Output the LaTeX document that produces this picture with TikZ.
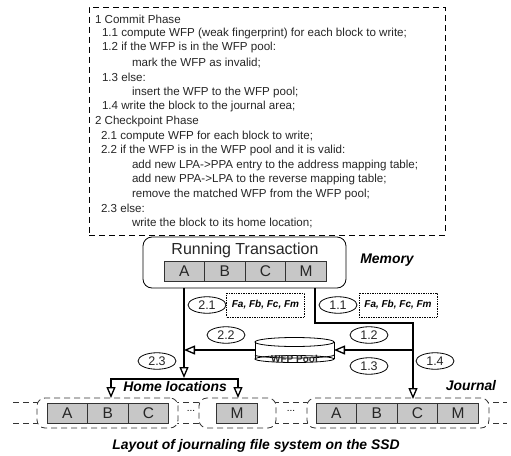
\documentclass[tikz,border=0pt]{standalone}
\usepackage{fontspec}
\setmainfont{Liberation Sans}
\usetikzlibrary{arrows.meta,positioning,calc,shapes.geometric}
\tikzset{
  every node/.style={inner sep=0pt,outer sep=0pt},
  steptext/.style={anchor=west,font=\fontsize{11.6}{13}\selectfont,text=black!85},
  cell/.style={draw=black!80,fill=black!22,line width=0.8pt,minimum width=40.6pt,minimum height=20pt,font=\fontsize{15.5}{17}\selectfont,text=black!85},
  num/.style={draw=black,ellipse,line width=0.8pt,minimum width=38pt,minimum height=16.5pt,font=\fontsize{12.5}{14}\selectfont,text=black!85},
  hashbox/.style={draw=black,densely dotted,line width=0.7pt,minimum width=78pt,minimum height=24pt,font=\bfseries\itshape\fontsize{10}{12}\selectfont},
  longdash/.style={dash pattern=on 6pt off 4pt},
  group/.style={draw=black!80,longdash,fill=white,rounded corners=8pt,line width=0.8pt},
  flow/.style={draw=black,line width=1.6pt},
  flowtip/.style={flow,-{Triangle[open,length=11pt,width=9pt,line width=1.3pt]}},
  lab/.style={font=\bfseries\itshape\fontsize{13.9}{16}\selectfont},
}
\begin{document}
\begin{tikzpicture}[x=1pt,y=-1pt]
\useasboundingbox (0,0) rectangle (511,455);
% pseudo-code box
\node[draw=black,longdash,line width=0.8pt,minimum width=356pt,minimum height=228pt] (code) at (267,121) {};
\node[steptext] (l1) at (95,19) {1 Commit Phase};
\node[steptext] (l2) at (102,34) {1.1 compute WFP (weak fingerprint) for each block to write;};
\node[steptext] (l3) at (102,48) {1.2 if the WFP is in the WFP pool:};
\node[steptext] (l4) at (132,63) {mark the WFP as invalid;};
\node[steptext] (l5) at (102,77) {1.3 else:};
\node[steptext] (l6) at (132,92) {insert the WFP to the WFP pool;};
\node[steptext] (l7) at (102,106) {1.4 write the block to the journal area;};
\node[steptext] (l8) at (95,121) {2 Checkpoint Phase};
\node[steptext] (l9) at (101,136) {2.1 compute WFP for each block to write;};
\node[steptext] (l10) at (101,150) {2.2 if the WFP is in the WFP pool and it is valid:};
\node[steptext] (l11) at (132,165) {add new LPA->PPA entry to the address mapping table;};
\node[steptext] (l12) at (132,179) {add new PPA->LPA to the reverse mapping table;};
\node[steptext] (l13) at (132,194) {remove the matched WFP from the WFP pool;};
\node[steptext] (l14) at (101,208) {2.3 else:};
\node[steptext] (l15) at (132,223) {write the block to its home location;};
% running transaction
\node[draw=black,line width=0.8pt,rounded corners=9pt,minimum width=203pt,minimum height=51pt] (rt) at (244.5,262.5) {};
\node[font=\fontsize{16}{18}\selectfont,text=black!85] (rtl) at (245,250) {Running Transaction};
\node[cell] (ra) at (184.3,271) {A};
\node[cell] (rb) at (224.9,271) {B};
\node[cell] (rc) at (265.5,271) {C};
\node[cell] (rm) at (306.1,271) {M};
\node[lab] (mem) at (387,260) {Memory};
% hashes
\node[hashbox] (h2) at (265.5,305) {Fa, Fb, Fc, Fm};
\node[hashbox] (h1) at (398,305) {Fa, Fb, Fc, Fm};
\node[num,fill=white] (n21) at (207,305) {2.1};
\node[num,fill=white] (n11) at (338,305) {1.1};
\node[num] (n22) at (226,335) {2.2};
\node[num] (n12) at (369,335) {1.2};
\node[num] (n13) at (369,366) {1.3};
\node[num] (n23) at (157,361) {2.3};
\node[num] (n14) at (435,361) {1.4};
% storage strip
\coordinate (sl1) at (13,402); \coordinate (sr1) at (507,402);
\coordinate (sl2) at (13,423); \coordinate (sr2) at (507,423);
\draw[black!80,longdash,line width=0.7pt] (sl1) -- (sr1);
\draw[black!80,longdash,line width=0.7pt] (sl2) -- (sr2);
\node[group,minimum width=141pt,minimum height=30pt] (g1) at (107.5,413) {};
\node[group,minimum width=77pt,minimum height=30pt] (g2) at (237.5,413) {};
\node[group,minimum width=182pt,minimum height=30pt] (g3) at (398,413) {};
\node[cell] (ha) at (67.3,413) {A};
\node[cell] (hb) at (107.9,413) {B};
\node[cell] (hc) at (148.5,413) {C};
\node[cell] (hm) at (237,413) {M};
\node[cell] (ja) at (336.3,413) {A};
\node[cell] (jb) at (376.9,413) {B};
\node[cell] (jc) at (417.5,413) {C};
\node[cell] (jm) at (458.1,413) {M};
\node[font=\fontsize{10}{12}\selectfont] (d1) at (191,411) {...};
\node[font=\fontsize{10}{12}\selectfont] (d2) at (291,411) {...};
\node[lab] (home) at (175,387) {Home locations};
\node[lab] (jour) at (471,386) {Journal};
\node[lab] (cap) at (256,446) {Layout of journaling file system on the SSD};
% WFP pool cylinder
\coordinate (cytl) at (255,342); \coordinate (cytr) at (334,342);
\coordinate (cybl) at (255,359); \coordinate (cybr) at (334,359);
\draw[black,line width=0.8pt] (cytl) -- (cybl) (cytr) -- (cybr);
\draw[black,line width=0.8pt] (294.5,342) ellipse [x radius=39.5pt,y radius=4.5pt];
\draw[black,line width=0.8pt] (294.5,359) ellipse [x radius=39.5pt,y radius=3.5pt];
\draw[black,line width=0.8pt] (cytl) ++(0,13) arc [start angle=180,end angle=0,x radius=39.5pt,y radius=-3pt];
\node[font=\bfseries\fontsize{10}{12}\selectfont,text=black!85] (pool) at (294.5,359) {WFP Pool};
\coordinate (cyl) at (255,350); \coordinate (cyr) at (334,350);
% connectors
\coordinate (leftjoin) at (184,350);
\coordinate (homejoin) at (184,379);
\coordinate (rstart) at (315,288);
\coordinate (rturn1) at (315,323);
\coordinate (rturn2) at (413,323);
\coordinate (rmid) at (413,350);
\coordinate (rend) at (413,399);
\coordinate (lstart) at (184,288);
\coordinate (ltip) at (184,378);
\coordinate (htipl) at (111,398);
\coordinate (htipr) at (238,398);
\draw[flowtip] (lstart) -- (ltip);
\draw[flowtip] (rstart) -- (rturn1) -- (rturn2) -- (rend);
\draw[flowtip] (cyl) -- (leftjoin);
\draw[flowtip] (rmid) -- (cyr);
\draw[flowtip] (homejoin) -- (htipl |- homejoin) -- (htipl);
\draw[flowtip] (homejoin) -- (htipr |- homejoin) -- (htipr);
\end{tikzpicture}
\end{document}
